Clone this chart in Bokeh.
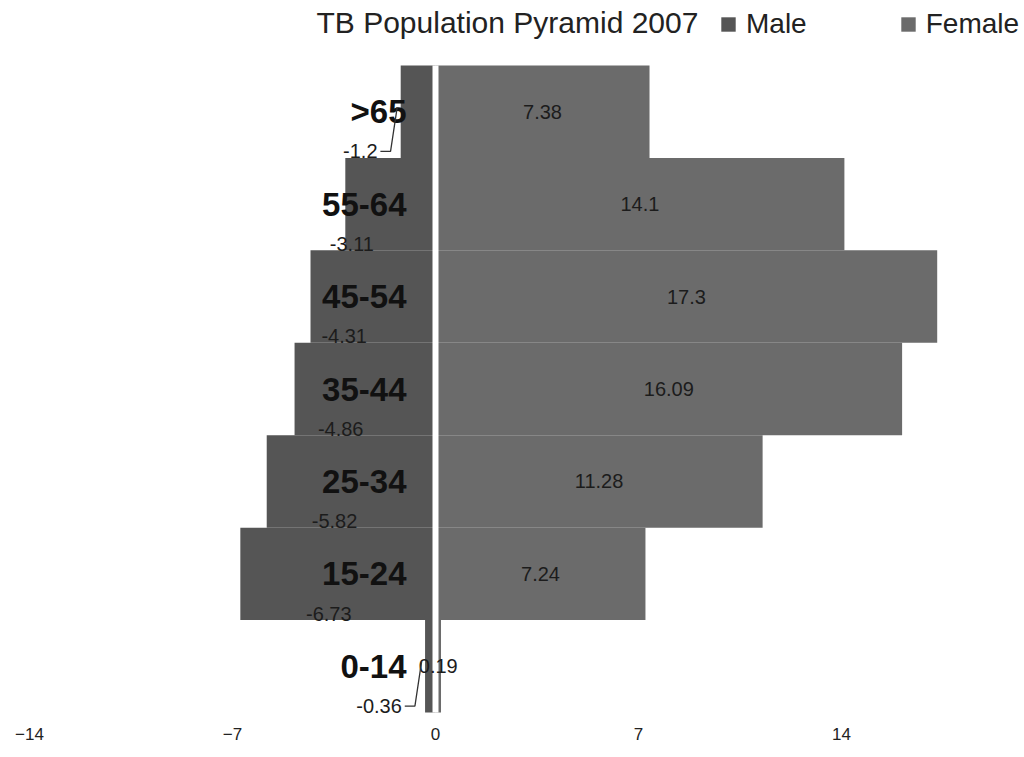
from bokeh.plotting import figure
from bokeh.models import Legend, LegendItem, ColumnDataSource
from bokeh.core.properties import value
from bokeh.embed import file_html
from bokeh.resources import INLINE

# ---------------- data ----------------
age_groups = ["0-14", "15-24", "25-34", "35-44", "45-54", "55-64", ">65"]
male = [-0.36, -6.73, -5.82, -4.86, -4.31, -3.11, -1.2]
female = [0.19, 7.24, 11.28, 16.09, 17.3, 14.1, 7.38]
x_ticks = [-14, -7, 0, 7, 14, 21]
title_text = "TB Population Pyramid 2007"
series_names = ["Male", "Female"]

# ---------------- layout ----------------
W, H = 1020, 752
PX_X = 29.0          # pixels per unit on x
ZERO_X = 435         # canvas px of x = 0
FRAME_H = 724        # frame height in px
ROW_PX = 92.43       # pixels per category row
BAR_TOP = 65         # canvas px of top of the first row

x_start = -ZERO_X / PX_X
x_end = (W - ZERO_X) / PX_X
n = len(age_groups)
y_end = (n - 0.5) + BAR_TOP / ROW_PX
y_start = y_end - FRAME_H / ROW_PX

MALE_C = "#555555"
FEMALE_C = "#6b6b6b"
TXT = "#1c1c1c"
FONT = "Liberation Sans"

p = figure(width=W, height=H, output_backend="svg", toolbar_location=None,
           x_range=(x_start, x_end), y_range=(y_start, y_end),
           y_axis_location=None, min_border_left=0, min_border_right=0,
           min_border_top=0, min_border_bottom=H - FRAME_H,
           outline_line_color=None, background_fill_color="white",
           border_fill_color="white")
p.grid.visible = False

rows = list(range(n))
src = ColumnDataSource(dict(y=rows, male=male, female=female, zero=[0] * n))

male_r = p.hbar(y="y", left="male", right="zero", height=1.0, source=src,
                fill_color=MALE_C, line_color=None)
female_r = p.hbar(y="y", left="zero", right="female", height=1.0, source=src,
                  fill_color=FEMALE_C, line_color=None)

# white separation between the two halves
p.segment(x0=[0], x1=[0], y0=[-0.5], y1=[n - 0.5], line_color="white", line_width=6)

# category labels
p.text(x=[-1.0] * n, y=rows, text=age_groups, text_font=value(FONT),
       text_font_size="33px", text_font_style="bold", text_color="#111111",
       text_align="right", text_baseline="middle")

# female value labels (centre of bar)
p.text(x=[f / 2 for f in female], y=rows, text=[f"{f:g}" for f in female],
       text_font=value(FONT), text_font_size="20px", text_color=TXT,
       text_align="center", text_baseline="middle")

# male value labels
lab_x, lab_y, lab_t, lab_align = [], [], [], []
call_xs, call_ys = [], []
for r, m in zip(rows, male):
    ly = r - 0.43
    if abs(m) < 2:
        end = (m - 0.12, r + 0.05)
        elbow = (m - 0.35, ly)
        start = (m - 0.7, ly)
        call_xs.append([start[0], elbow[0], end[0]])
        call_ys.append([start[1], elbow[1], end[1]])
        lab_x.append(m - 0.8)
        lab_align.append("right")
    else:
        lab_x.append(-(2.2 + 0.22 * abs(m)))
        lab_align.append("center")
    lab_y.append(ly)
    lab_t.append(f"{m:g}")

p.multi_line(xs=call_xs, ys=call_ys, line_color="#333333", line_width=1.3)
p.text(x=lab_x, y=lab_y, text=lab_t, text_align=lab_align,
       text_font=value(FONT), text_font_size="20px", text_color=TXT,
       text_baseline="middle")

# title
p.text(x=[(316 - ZERO_X) / PX_X], y=[y_end - 22 / ROW_PX], text=[title_text],
       text_font=value(FONT), text_font_size="30px", text_color="#222222",
       text_align="left", text_baseline="middle")

# legend
legend = Legend(items=[LegendItem(label=series_names[0], renderers=[male_r]),
                       LegendItem(label=series_names[1], renderers=[female_r])],
                orientation="horizontal", location=(719, FRAME_H - 40),
                glyph_width=18, glyph_height=18, label_standoff=9, spacing=92,
                padding=0, margin=0, border_line_color=None,
                background_fill_alpha=0, label_text_font=FONT,
                label_text_font_size="28px", label_text_color="#222222")
p.add_layout(legend)

# x axis
ax = p.xaxis[0]
ax.ticker = x_ticks
ax.axis_line_color = None
ax.major_tick_line_color = None
ax.minor_tick_line_color = None
ax.major_tick_out = 0
ax.major_label_standoff = 3
ax.major_label_text_font = FONT
ax.major_label_text_font_size = "17px"
ax.major_label_text_color = "#222222"

open("out.html", "w").write(file_html(p, INLINE))
